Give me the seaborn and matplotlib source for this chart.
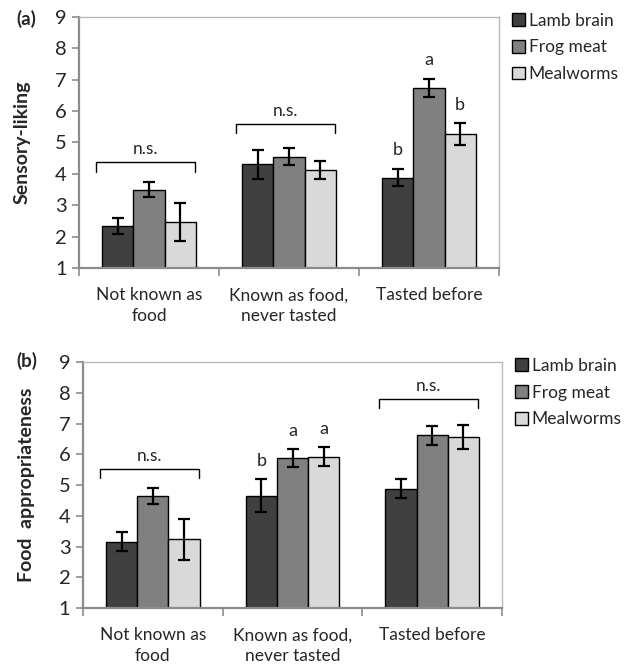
import matplotlib
matplotlib.use('Agg')
import matplotlib.pyplot as plt
from matplotlib.patches import Patch
import seaborn as sns
import pandas as pd

### DATA ###
categories = ['Not known as\nfood', 'Known as food,\nnever tasted', 'Tasted before']
foods = ['Lamb brain', 'Frog meat', 'Mealworms']

# (a) sensory liking: means and error half-widths
liking_lamb = [2.34, 4.31, 3.88]
liking_frog = [3.50, 4.54, 6.74]
liking_meal = [2.47, 4.12, 5.26]
liking_lamb_err = [0.26, 0.46, 0.27]
liking_frog_err = [0.24, 0.27, 0.28]
liking_meal_err = [0.61, 0.28, 0.35]

# (b) food appropriateness
approp_lamb = [3.16, 4.65, 4.88]
approp_frog = [4.64, 5.87, 6.62]
approp_meal = [3.23, 5.92, 6.56]
approp_lamb_err = [0.30, 0.53, 0.30]
approp_frog_err = [0.27, 0.29, 0.31]
approp_meal_err = [0.68, 0.31, 0.40]

# significance notes: (category index, bracket y) for n.s., letters per bar
liking_ns = [(0, 4.37), (1, 5.59)]
liking_letters = {2: ['b', 'a', 'b']}
approp_ns = [(0, 5.52), (2, 7.80)]
approp_letters = {1: ['b', 'a', 'a']}

colors = ['#404040', '#808080', '#d9d9d9']

sns.set_style('white')
plt.rcParams['font.family'] = ['Lato', 'DejaVu Sans']


def make_df(lamb, frog, meal):
    rows = []
    for food, vals in zip(foods, [lamb, frog, meal]):
        for cat, v in zip(categories, vals):
            rows.append({'category': cat, 'food': food, 'value': v})
    return pd.DataFrame(rows)


def draw_panel(ax, df, errs, ns, letters, ylabel):
    sns.barplot(data=df, x='category', y='value', hue='food', order=categories,
                hue_order=foods, palette=colors, width=0.67, errorbar=None,
                edgecolor='black', linewidth=1.0, saturation=1, ax=ax, zorder=2)
    tops = {}
    for container, err in zip(ax.containers, errs):
        for i, (bar, e) in enumerate(zip(container, err)):
            xc = bar.get_x() + bar.get_width() / 2
            h = bar.get_height()
            ax.errorbar(xc, h, yerr=e, fmt='none', ecolor='black',
                        elinewidth=1.6, capsize=4.2, capthick=1.6, zorder=3)
            tops.setdefault(i, []).append((xc, h + e))
    # letters above the error bars
    for i, labs in letters.items():
        for (xc, top), lab in zip(tops[i], labs):
            ax.text(xc, top + 0.6, lab, ha='center', va='center', fontsize=13)
    # n.s. brackets
    for i, yb in ns:
        x0, x1 = i - 0.38, i + 0.33
        ax.plot([x0, x0, x1, x1], [yb - 0.3, yb, yb, yb - 0.3],
                color='black', lw=1.0, zorder=3)
        ax.text((x0 + x1) / 2, yb + 0.42, 'n.s.', ha='center', va='center',
                fontsize=12.5)

    ax.set_ylim(1, 9)
    ax.set_xlim(-0.5, 2.5)
    ax.set_yticks(range(1, 10))
    ax.tick_params(axis='y', labelsize=14.5, length=5, width=1.2,
                   color='#8c8c8c', left=True, direction='out', pad=4)
    ax.set_xticks([0, 1, 2])
    ax.set_xticklabels(categories, fontsize=12.5, linespacing=1.35)
    ax.tick_params(axis='x', which='major', length=0, pad=14)
    ax.set_xticks([-0.5, 0.5, 1.5, 2.5], minor=True)
    ax.tick_params(axis='x', which='minor', length=6, width=1.2,
                   color='#8c8c8c', bottom=True, direction='out')
    ax.set_xlabel('')
    ax.set_ylabel(ylabel, fontsize=14, fontweight='bold')
    ax.yaxis.set_label_coords(-0.115, 0.5)
    for s in ['left', 'bottom']:
        ax.spines[s].set_color('#8c8c8c')
        ax.spines[s].set_linewidth(1.6)
    for s in ['top', 'right']:
        ax.spines[s].set_visible(True)
        ax.spines[s].set_color('#b8b8b8')
        ax.spines[s].set_linewidth(1.0)
    ax.get_legend().remove()
    handles = [Patch(facecolor=c, edgecolor='black', linewidth=1.0) for c in colors]
    ax.legend(handles, foods, loc='upper left', bbox_to_anchor=(1.015, 1.045),
              frameon=False, fontsize=12.5, handlelength=0.75, handleheight=0.75,
              handletextpad=0.2, labelspacing=0.62, borderaxespad=0)


fig = plt.figure(figsize=(6.3, 6.64), dpi=100)
ax_a = fig.add_axes([0.1254, 0.5964, 0.6666, 0.378])
ax_b = fig.add_axes([0.1317, 0.0843, 0.6653, 0.3705])

df_a = make_df(liking_lamb, liking_frog, liking_meal)
df_b = make_df(approp_lamb, approp_frog, approp_meal)

draw_panel(ax_a, df_a, [liking_lamb_err, liking_frog_err, liking_meal_err],
           liking_ns, liking_letters, 'Sensory-liking')
draw_panel(ax_b, df_b, [approp_lamb_err, approp_frog_err, approp_meal_err],
           approp_ns, approp_letters, 'Food  appropriateness')

fig.text(16 / 630, 1 - 19 / 664, '(a)', ha='left', va='center',
         fontsize=13.5, fontweight='bold')
fig.text(16 / 630, 1 - 361 / 664, '(b)', ha='left', va='center',
         fontsize=13.5, fontweight='bold')

fig.savefig('out.png', dpi=100)
